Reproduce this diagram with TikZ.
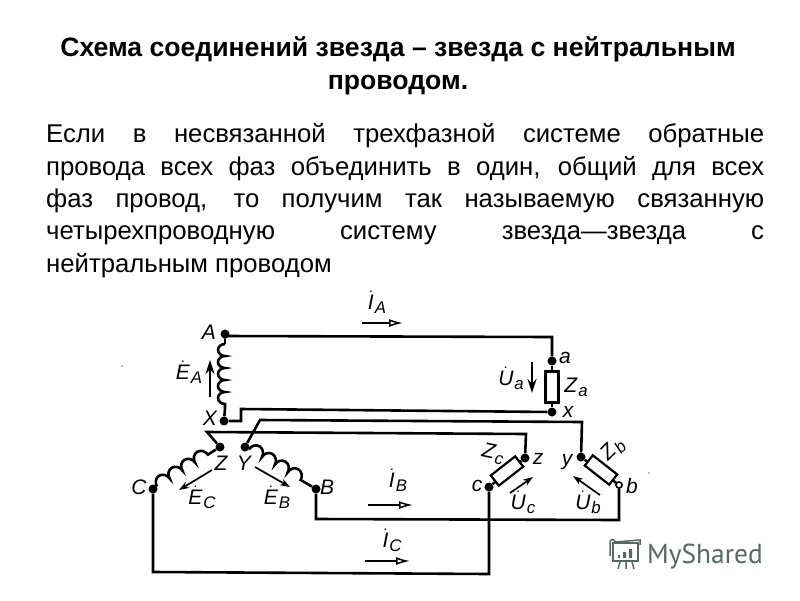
\documentclass[tikz,border=0pt]{standalone}
\usepackage{fontspec}
\setmainfont{Liberation Sans}
\newfontfamily\logofont{PT Sans}
\usetikzlibrary{arrows.meta,decorations.pathmorphing,calc}
\definecolor{logogray}{HTML}{5B6662}
\newcommand{\dotlab}[2]{$\dot{\hbox{\itshape #1}}$\kern1pt\raisebox{-0.35ex}{\scalebox{0.8}{\itshape #2}}}
\newcommand{\sublab}[2]{\textit{#1}\kern1pt\raisebox{-0.35ex}{\scalebox{0.8}{\itshape #2}}}
\begin{document}
\begin{tikzpicture}[x=1pt,y=-1pt,
  wire/.style={line width=2.6pt,black,line join=miter},
  junction/.style={circle,fill=black,inner sep=0pt,minimum size=9pt},
  openjunction/.style={circle,draw=black,fill=white,line width=1.4pt,inner sep=0pt,minimum size=6pt},
  resistor/.style={draw=black,fill=white,line width=2.2pt,inner sep=0pt,minimum width=13pt,minimum height=31pt},
  coilwire/.style={line width=2.6pt,black,decorate},
  lab/.style={inner sep=0pt,font=\fontsize{21}{21}\selectfont\itshape},
  emf/.style={line width=1.7pt,-{Stealth[length=10pt,width=7pt]}},
  bigemf/.style={line width=2.6pt,-{Stealth[length=14pt,width=9pt]}},
  current/.style={line width=1.5pt,-{Latex[open,length=14pt,width=8pt,line width=1.5pt]}},
  title/.style={font=\fontsize{26.6}{33}\selectfont\bfseries,align=center,inner sep=0pt},
  bodytext/.style={font=\fontsize{25.7}{32.4}\selectfont,text width=718pt,align=justify,inner sep=0pt},
  logotext/.style={font=\fontsize{27.4}{27.4}\selectfont\logofont,text=logogray,inner sep=0pt},
  logoline/.style={draw=logogray,line width=1.5pt}]
\useasboundingbox (0,0) rectangle (800,600);
\fill[white] (0,0) rectangle (800,600);

\node[title] (heading) at (398,66) {Схема соединений звезда – звезда с нейтральным\\проводом.};
\node[bodytext,anchor=north west] (para) at (46,123.5) {Если в несвязанной трехфазной системе обратные\linebreak провода всех фаз объединить в один, общий для всех\linebreak фаз провод, то получим так называемую связанную\linebreak четырехпроводную систему звезда—звезда с\linebreak нейтральным проводом};

% terminals
\node[junction] (A) at (225,334) {};
\node[junction] (X) at (224,421) {};
\node[junction] (Z) at (220,447) {};
\node[junction] (Y) at (245,447) {};
\node[junction] (B) at (316,489) {};
\node[junction] (C) at (153,489) {};
\node[junction] (a) at (552,361) {};
\node[junction] (xx) at (552,412) {};
\node[junction] (zz) at (525,458) {};
\node[junction] (cc) at (489,487) {};
\node[junction] (yy) at (581,457) {};
\node[openjunction] (bb) at (619,485) {};

% bend points
\coordinate (k0) at (225,336);
\coordinate (k1) at (552,337);
\coordinate (k2) at (241,421);
\coordinate (k3) at (241,409);
\coordinate (k4) at (260,420);
\coordinate (k5) at (582,422);
\coordinate (k6) at (207,432);
\coordinate (k7) at (526,434);
\coordinate (k8) at (316,519);
\coordinate (k9) at (619,520);
\coordinate (k10) at (153,572);
\coordinate (k11) at (489,574);
\coordinate (ca) at (225,344);
\coordinate (cb) at (225,408);

% wires
\draw[wire] (A) -- (k0) -- (k1) -- (a);
\draw[wire] (X) -- (k2) -- (k3) -- (xx);
\draw[wire] (Y) -- (k4) -- (k5) -- (yy);
\draw[wire] (Z) -- (k6) -- (k7) -- (zz);
\draw[wire] (B) -- (k8) -- (k9) -- (bb);
\draw[wire] (C) -- (k10) -- (k11) -- (cc);

% coils
\draw[wire] (A) -- (ca);
\draw[wire] (X) -- (cb);
\draw[coilwire,decoration={bumps,segment length=24pt,amplitude=7pt,mirror}] (ca) -- (cb);
\draw[coilwire,decoration={bumps,segment length=30pt,amplitude=8pt}] (Y) -- (B);
\draw[coilwire,decoration={bumps,segment length=30pt,amplitude=8pt}] (C) -- (Z);

% loads
\draw[wire] (a) -- (xx);
\node[resistor] (Ra) at (552,387) {};
\draw[wire] (zz) -- (cc);
\node[resistor,rotate=-52] (Rc) at (507,471) {};
\draw[wire] (yy) -- (bb);
\node[resistor,rotate=52] (Rb) at (601,470) {};
\node[openjunction] at (bb) {};

% arrows
\draw[bigemf] (210,397) -- (210,360);
\draw[emf] (212,470) -- (179,490);
\draw[emf] (255,467) -- (290,487);
\draw[bigemf] (532,362) -- (532,393);
\draw[emf] (510,493) -- (533,477);
\draw[emf] (600,495) -- (573,476);
\draw[current] (362,323) -- (403,323);
\draw[current] (368,505) -- (413,505);
\draw[current] (365,561) -- (410,561);

% labels
\node[lab] (lA) at (209,332) {A};
\node[lab] (lX) at (210,418) {X};
\node[lab] (lZ) at (221,463) {Z};
\node[lab] (lY) at (244,463) {Y};
\node[lab] (lC) at (139,487) {C};
\node[lab] (lB) at (327,487) {B};
\node[lab] (lEA) at (189,372) {\dotlab{E}{A}};
\node[lab] (lEC) at (202,497) {\dotlab{E}{C}};
\node[lab] (lEB) at (277,497) {\dotlab{E}{B}};
\node[lab] (lIA) at (377,302) {\dotlab{I}{A}};
\node[lab] (lIB) at (398,480) {\dotlab{I}{B}};
\node[lab] (lIC) at (392,540) {\dotlab{I}{C}};
\node[lab] (lUa) at (511,378) {\dotlab{U}{a}};
\node[lab] (lZa) at (576,387) {\sublab{Z}{a}};
\node[lab] (la) at (565,358) {a};
\node[lab] (lx) at (568,412) {x};
\node[lab,rotate=-12] (lZc) at (493,454) {\sublab{Z}{c}};
\node[lab] (lz) at (538,459) {z};
\node[lab] (lc) at (477,486) {c};
\node[lab] (ly) at (567,462) {y};
\node[lab,rotate=45] (lZb) at (613,450) {\sublab{Z}{b}};
\node[lab] (lb) at (632,486) {b};
\node[lab] (lUc) at (523,502) {\dotlab{U}{c}};
\node[lab] (lUb) at (588,502) {\dotlab{U}{b}};

% specks
\fill[gray] (122,366) circle (0.8pt);
\fill[gray] (649,473) circle (0.8pt);

% watermark
\draw[logoline] (613,543) rectangle (638,561);
\draw[logoline] (610,556) -- (610,542) arc[start angle=180,end angle=0,radius=2.5pt] -- (640,540) -- (640,545);
\fill[logogray] (618,555) rectangle (620,558) (623,552) rectangle (626,558) (629,549) rectangle (632,558);
\draw[logoline] (620,562) -- (618,569) (626,562) -- (626,569) (632,562) -- (634,569);
\node[logotext,anchor=base west] (logo) at (647,563) {MyShared};
\end{tikzpicture}
\end{document}
